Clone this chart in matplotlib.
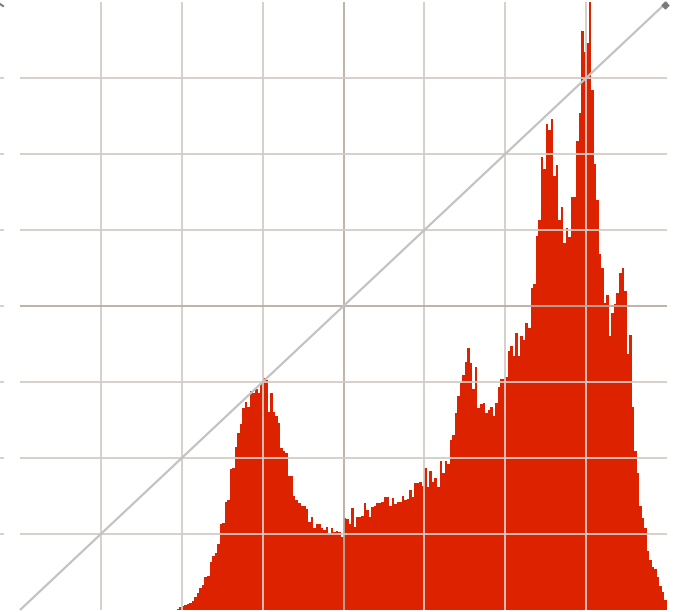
import numpy as np
import matplotlib
matplotlib.use("Agg")
import matplotlib.pyplot as plt
from matplotlib.lines import Line2D

# Histogram of channel levels (256 bins), counts in display units
levels = np.arange(256)
first_level = 62
counts_from_62 = [
    1.5, 3, 4, 5, 6, 7, 9.5, 13, 17, 22,                 # 62-71
    25, 33, 34, 48, 54, 57, 66, 86, 87, 108,             # 72-81
    110, 141, 142, 163, 177, 186, 202, 208, 203, 219,    # 82-91
    217, 221, 217, 227, 232, 230, 198, 217, 198, 194,    # 92-101
    187, 162, 159, 157, 134, 134, 114, 110, 107, 104,    # 102-111
    104, 101, 88, 93, 82, 86, 86, 82, 80, 83,            # 112-121
    77, 82, 78, 79, 78, 73, 92, 91, 86, 102,             # 122-131
    83, 93, 93, 94, 107, 100, 93, 103, 104, 107,         # 132-141
    107, 108, 113, 113, 104, 112, 106, 108, 108, 114,    # 142-151
    110, 111, 120, 113, 127, 127, 128, 124, 142, 123,    # 152-161
    139, 128, 132, 123, 149, 137, 149, 146, 170, 175,    # 162-171
    197, 214, 227, 235, 248, 262, 247, 221, 243, 202,    # 172-181
    206, 207, 197, 200, 203, 194, 207, 223, 231, 231,    # 182-191
    233, 259, 264, 254, 277, 254, 274, 270, 287, 282,    # 192-201
    322, 326, 374, 390, 453, 441, 486, 480, 491, 434,    # 202-211
    445, 390, 403, 367, 382, 373, 413, 413, 469, 497,    # 212-221
    579, 558, 567, 640, 520, 446, 410, 356, 342, 307,    # 222-231
    315, 274, 297, 306, 317, 337, 342, 319, 256, 275,    # 232-241
    203, 159, 137, 104, 92, 82, 59, 50, 43, 41,          # 242-251
    33, 24, 18, 10,                                      # 252-255
]
counts = np.zeros(256)
counts[first_level:first_level + len(counts_from_62)] = counts_from_62

y_max = 608
grid_x = [32, 64, 96, 128, 160, 192, 224]
grid_y = [y_max * k / 8 for k in range(1, 8)]

W, H = 673, 612
fig = plt.figure(figsize=(W / 100, H / 100), dpi=100)
fig.patch.set_facecolor("white")
ax = fig.add_axes([20 / W, 2 / H, 647 / W, 608 / H])
ax.set_xlim(0, 256)
ax.set_ylim(0, y_max)
ax.axis("off")

# histogram bars
ax.bar(levels, counts, width=1.0, align="edge", color="#DD2200",
       linewidth=0, zorder=1)

# grid over the histogram; centre lines a little darker
for gx in grid_x:
    c = "#B8ACA2" if gx == 128 else "#D4CCC5"
    ax.axvline(gx, color=c, linewidth=1.3, zorder=2)
for i, gy in enumerate(grid_y):
    c = "#B8ACA2" if i == 3 else "#D4CCC5"
    ax.axhline(gy, color=c, linewidth=1.3, zorder=2)

# identity curve with end handle
ax.plot([0, 256], [0, y_max], color="#C2C2C2", linewidth=1.6,
        zorder=3, solid_capstyle="butt", clip_on=False)
ax.plot([255.2], [y_max - 3], marker="D", markersize=3.5,
        color="#7A7A7A", zorder=4, clip_on=False)

# small marks at the left border
for gy in grid_y:
    yf = (2 + gy) / H
    fig.add_artist(Line2D([0, 3 / W], [yf, yf], color="#D4CCC5",
                          linewidth=1.3))
fig.add_artist(Line2D([0, 3 / W], [1 - 4 / H, 1 - 6 / H], color="#7A7A7A",
                      linewidth=1.5))

fig.savefig("out.png", dpi=100, facecolor="white")
